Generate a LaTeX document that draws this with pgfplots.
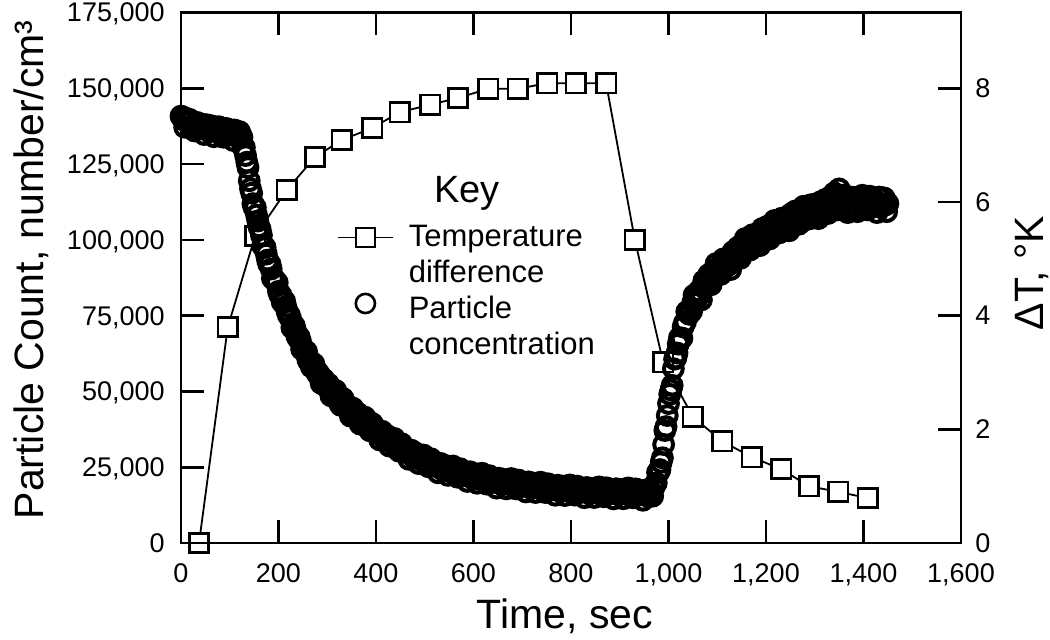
\documentclass[border=0pt]{standalone}
\usepackage{fontspec}
\setmainfont{Liberation Sans}
\usepackage{pgfplots}
\pgfplotsset{compat=1.18}
\usepackage{pgfplotstable}

% particle concentration, number/cm3
\pgfplotstableread{
t c
0 140800
2.5 140650
5 139600
7.5 137150
10 140100
12.5 138850
15 138700
17.5 139750
20 139200
22.5 136775
25 137900
27.5 135925
30 138600
32.5 138750
35 137300
37.5 136825
40 138300
42.5 137675
45 136900
47.5 134750
50 137900
52.5 137975
55 136600
57.5 135725
60 137700
62.5 137275
65 136200
67.5 134025
70 137300
72.5 136050
75 135800
77.5 137325
80 136900
82.5 134575
85 135500
87.5 133850
90 136700
92.5 136750
95 135200
97.5 134825
100 136400
102.5 135675
105 135000
107.5 132750
110 136200
112.5 135975
115 134600
117.5 133725
120 135700
122.5 134650
125 133800
127.5 130400
130 130500
132.5 127800
135 125600
137.5 123850
140 119500
142.5 116900
145 115400
147.5 111950
150 110600
152.5 110700
155 108200
157.5 106200
160 104300
162.5 103450
165 101500
167.5 98000
170 97600
172.5 97550
175 95300
177.5 93300
180 92000
182.5 92050
185 90400
187.5 87300
190 87100
192.5 86850
195 85900
197.5 85900
200 83000
202.5 81900
205 81800
207.5 79500
210 79200
212.5 79800
215 78000
217.5 76450
220 75200
222.5 75150
225 73900
227.5 71000
230 71000
232.5 71650
235 70100
237.5 68350
240 67500
242.5 67950
245 66600
247.5 63950
250 64000
252.5 63800
255 62900
257.5 63150
260 60600
262.5 59750
265 60000
267.5 58050
270 58100
272.5 59100
275 57600
277.5 56500
280 55700
282.5 56000
285 55100
287.5 52650
290 53200
292.5 54100
295 52900
297.5 51700
300 51400
302.5 52450
305 51000
307.5 48550
310 49600
312.5 49850
315 49300
317.5 50300
320 47800
322.5 46800
325 47500
327.5 45400
330 46100
332.5 47650
335 45900
337.5 45100
340 44600
342.5 45350
345 44500
347.5 41850
350 43300
352.5 44500
355 42900
357.5 41750
360 41800
362.5 42850
365 41500
367.5 39200
370 40400
372.5 40750
375 40200
377.5 41500
380 39200
382.5 38250
385 38900
387.5 37000
390 37900
392.5 39400
395 37700
397.5 37000
400 36700
402.5 37400
405 36500
407.5 34000
410 35500
412.5 36850
415 35400
417.5 34300
420 34400
422.5 35500
425 34200
427.5 31950
430 33300
432.5 33650
435 33200
437.5 34500
440 32200
442.5 31350
445 32100
447.5 30250
450 31200
452.5 32750
455 31100
457.5 30400
460 30100
462.5 30850
465 30000
467.5 27600
470 29200
472.5 30600
475 29200
477.5 28200
480 28400
482.5 29600
485 28400
487.5 26200
490 27600
492.5 28000
495 27600
497.5 29000
500 26800
502.5 26050
505 26900
507.5 25150
510 26200
512.5 27800
515 26200
517.5 25650
520 25500
522.5 26300
525 25500
527.5 23150
530 24800
532.5 26250
535 24900
537.5 24000
540 24300
542.5 25550
545 24400
547.5 22300
550 23800
552.5 24250
555 23900
557.5 25400
560 23300
562.5 22550
565 23400
567.5 21700
570 22800
572.5 24500
575 23000
577.5 22500
580 22400
582.5 23300
585 22600
587.5 20300
590 22000
592.5 23500
595 22200
597.5 21300
600 21600
602.5 22900
605 21800
607.5 19700
610 21200
612.5 21750
615 21500
617.5 23000
620 20900
622.5 20200
625 21100
627.5 19400
630 20500
632.5 22200
635 20700
637.5 20250
640 20200
642.5 21100
645 20400
647.5 18100
650 19800
652.5 21350
655 20100
657.5 19250
660 19600
662.5 20950
665 19900
667.5 17850
670 19400
672.5 19950
675 19700
677.5 21250
680 19200
682.5 18550
685 19500
687.5 17850
690 19000
692.5 20750
695 19300
697.5 18850
700 18800
702.5 19750
705 19100
707.5 16850
710 18600
712.5 20150
715 18900
717.5 18050
720 18400
722.5 19750
725 18700
727.5 16650
730 18200
732.5 18750
735 18500
737.5 20050
740 18000
742.5 17350
745 18300
747.5 16650
750 17800
752.5 19550
755 18100
757.5 17700
760 17700
762.5 18650
765 18000
767.5 15750
770 17500
772.5 19050
775 17800
777.5 17000
780 17400
782.5 18750
785 17700
787.5 15650
790 17200
792.5 17800
795 17600
797.5 19150
800 17100
802.5 16450
805 17400
807.5 15800
810 17000
812.5 18750
815 17300
817.5 16900
820 16900
822.5 17850
825 17200
827.5 14950
830 16700
832.5 18300
835 17100
837.5 16250
840 16600
842.5 18000
845 17000
847.5 15000
850 16600
852.5 17150
855 16900
857.5 18500
860 16500
862.5 15900
865 16900
867.5 15250
870 16400
872.5 18200
875 16800
877.5 16400
880 16400
882.5 17400
885 16800
887.5 14550
890 16300
892.5 17900
895 16700
897.5 15900
900 16300
902.5 17650
905 16600
907.5 14600
910 16200
912.5 16800
915 16600
917.5 18150
920 16100
922.5 15500
925 16500
927.5 14900
930 16100
932.5 17850
935 16400
937.5 16000
940 16000
942.5 16950
945 16300
947.5 14100
950 15900
952.5 17450
955 16200
957.5 15400
960 16100
962.5 17450
965 16800
967.5 15450
970 18300
972.5 19400
975 19800
977.5 23300
980 23400
982.5 24200
985 26600
987.5 28100
990 32500
992.5 37100
995 38400
997.5 42050
1000 46000
1002.5 49050
1005 50500
1007.5 52000
1010 57500
1012.5 60650
1015 61000
1017.5 62650
1020 65600
1022.5 67700
1025 67500
1027.5 67600
1030 71300
1032.5 72550
1035 73000
1037.5 76300
1040 76200
1042.5 75450
1045 76500
1047.5 76450
1050 79400
1052.5 81750
1055 79400
1057.5 80350
1060 82000
1062.5 83150
1065 82000
1067.5 80200
1070 84600
1072.5 86500
1075 84300
1077.5 84700
1080 87000
1082.5 88550
1085 86600
1087.5 85200
1090 89300
1092.5 89400
1095 88300
1097.5 92150
1100 90700
1102.5 88900
1105 89600
1107.5 88600
1110 92000
1112.5 93700
1115 90700
1117.5 91600
1120 93300
1122.5 93700
1125 91800
1127.5 90200
1130 94800
1132.5 96150
1135 93400
1137.5 94000
1140 96500
1142.5 97550
1145 95000
1147.5 93900
1150 98300
1152.5 97850
1155 96300
1157.5 100450
1160 99400
1162.5 97050
1165 97200
1167.5 96650
1170 100500
1172.5 101700
1175 98300
1177.5 99600
1180 101800
1182.5 101700
1185 99400
1187.5 98100
1190 103000
1192.5 103750
1195 100400
1197.5 101300
1200 104200
1202.5 104450
1205 101300
1207.5 100300
1210 105000
1212.5 103950
1215 101900
1217.5 106400
1220 105700
1222.5 102850
1225 102500
1227.5 102300
1230 106500
1232.5 107150
1235 103100
1237.5 104800
1240 107200
1242.5 106700
1245 103800
1247.5 103000
1250 108300
1252.5 108700
1255 104900
1257.5 106250
1260 109500
1262.5 109350
1265 105600
1267.5 105150
1270 110000
1272.5 108750
1275 106200
1277.5 111100
1280 110600
1282.5 107450
1285 106900
1287.5 106850
1290 111200
1292.5 111600
1295 107300
1297.5 109100
1300 111700
1302.5 110850
1305 107700
1307.5 107000
1310 112400
1312.5 112450
1315 108300
1317.5 109800
1320 113200
1322.5 112850
1325 109000
1327.5 108700
1330 114000
1332.5 112350
1335 109700
1337.5 114650
1340 115500
1342.5 110800
1345 110000
1347.5 109900
1350 116800
1352.5 114400
1355 110500
1357.5 111700
1360 114800
1362.5 113200
1365 109800
1367.5 109000
1370 113500
1372.5 114100
1375 110300
1377.5 111100
1380 114000
1382.5 113800
1385 110100
1387.5 109300
1390 113200
1392.5 112600
1395 110800
1397.5 114700
1400 112900
1402.5 110800
1405 110600
1407.5 109900
1410 113400
1412.5 114400
1415 110900
1417.5 111700
1420 112500
1422.5 113200
1425 111000
1427.5 109000
1430 114000
1432.5 114100
1435 111300
1437.5 111100
1440 113800
1442.5 113800
1445 111500
1447.5 109300
1450 112000
}\conctable

\pgfplotsset{
  frame/.style={
    width=390pt, height=265.25pt, scale only axis,
    clip=false,
    xmin=0, xmax=1600,
    tick align=inside,
    major tick length=11.5pt,
    axis line style={line width=1.3pt},
    every tick/.style={black, line width=1.3pt},
    tick label style={font=\fontsize{13.5}{14}\selectfont, inner sep=0pt},
    label style={font=\fontsize{20.5}{22}\selectfont},
  },
  sqline/.style={black, line width=0.9pt, mark=square*, mark size=4.8pt,
    mark options={fill=white, draw=black, line width=1.2pt, solid}},
  circ/.style={only marks, mark=o, mark size=4.7pt,
    mark options={draw=black, line width=2pt}},
  circleg/.style={legend image code/.code={%
    \draw[##1, mark size=4.8pt, mark options={draw=black, line width=1.3pt}]
      plot coordinates {(13.75pt,3pt)};}},
}
\newcommand{\numlabel}{\pgfmathprintnumber[fixed, precision=0, 1000 sep={,}, assume math mode=true]{\tick}}

\begin{document}
\begin{tikzpicture}

% right axis: temperature difference
\begin{axis}[frame,
    axis x line=none,
    axis y line*=right,
    ymin=0, ymax=9.3333,
    ytick={0,2,4,6,8},
    yticklabel style={anchor=west, xshift=7pt, text depth=0pt},
    yticklabel={\numlabel},
    ylabel={ΔT, °K},
    ylabel style={at={([xshift=41pt]axis description cs:1,0.509)}, anchor=base},
]
\addplot[sqline] coordinates {
 (37,0) (96,3.80) (152,5.40) (217,6.21) (275,6.79) (330,7.09) (392,7.30)
 (449,7.58) (511,7.71) (568,7.83) (630,7.99) (691,7.99) (751,8.09) (810,8.09)
 (872,8.09) (931,5.33) (989,3.18) (1050,2.22) (1110,1.79) (1171,1.51)
 (1231,1.30) (1288,1.00) (1348,0.90) (1409,0.79)
};
\end{axis}

% left axis: particle count
\begin{axis}[frame,
    ymin=0, ymax=175000,
    ytick={0,25000,50000,75000,100000,125000,150000,175000},
    xtick={0,200,400,600,800,1000,1200,1400,1600},
    scaled ticks=false,
    xtick pos=both, ytick pos=left,
    xticklabel pos=lower,
    yticklabel={\numlabel},
    xticklabel={\numlabel},
    yticklabel style={anchor=east, xshift=-8pt, text depth=0pt},
    xticklabel style={anchor=north, yshift=-10pt},
    xlabel={Time, sec},
    xlabel style={at={(axis description cs:0.492,0)}, anchor=base, yshift=-43pt},
    ylabel={Particle Count, number/cm³},
    ylabel style={at={([xshift=-68.5pt]axis description cs:0,0.515)}, anchor=base},
    legend style={at={(0.2,0.6098)}, anchor=north west, draw=none, fill=none,
      inner sep=0pt, outer sep=0pt, row sep=0pt,
      font=\fontsize{15.5}{16}\selectfont,
      nodes={inner sep=0pt, text height=13.75pt, text depth=4.25pt},
      /tikz/every odd column/.style={column sep=7.5pt}},
    legend cell align=left,
    legend image code/.code={\draw[mark repeat=2,mark phase=2,#1]
      plot coordinates {(0pt,0pt) (13.75pt,0pt) (27.5pt,0pt)};},
]
\addlegendimage{sqline}
\addlegendentry{Temperature}
\addlegendimage{empty legend}
\addlegendentry{difference}
\addlegendimage{circ, circleg}
\addlegendentry{Particle}
\addlegendimage{empty legend}
\addlegendentry{concentration}

\addplot[circ, forget plot] table[x=t, y=c] {\conctable};

\node[anchor=base, font=\fontsize{19}{20}\selectfont] at (rel axis cs:0.367,0.641) {Key};

\coordinate (bl) at (rel axis cs:0,0);
\coordinate (tr) at (rel axis cs:1,1);
\end{axis}

\pgfresetboundingbox
\path[use as bounding box] ([shift={(-90.5pt,-48.5pt)}]bl) rectangle ([shift={(44.5pt,6.25pt)}]tr);
\end{tikzpicture}
\end{document}
